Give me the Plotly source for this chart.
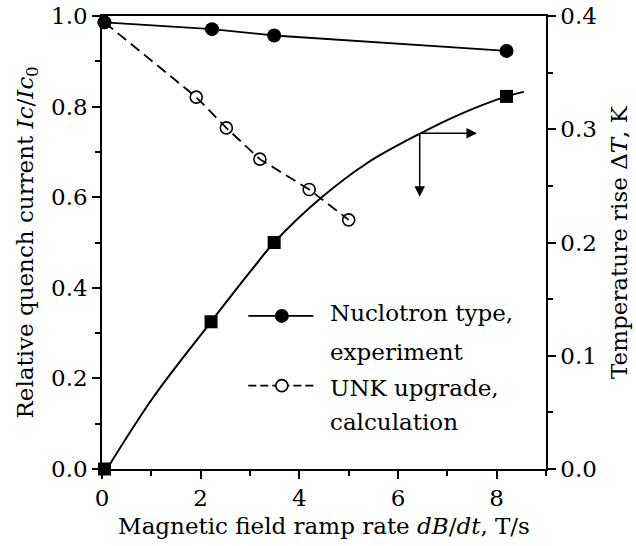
import plotly.graph_objects as go

# Nuclotron-type magnet, measured relative quench current (left axis)
nuc_x = [0.05, 2.23, 3.49, 8.2]
nuc_y = [0.986, 0.971, 0.957, 0.923]

# UNK upgrade, calculated relative quench current (left axis)
unk_x = [0.05, 1.91, 2.52, 3.2, 4.2, 5.0]
unk_y = [0.986, 0.821, 0.753, 0.684, 0.617, 0.550]

# Measured temperature rise (right axis)
dt_x = [0.05, 2.21, 3.49, 8.2]
dt_y = [0.0, 0.13, 0.2, 0.329]

# Smooth trend through the temperature rise points (right axis)
fit_x = [0.1, 1.05, 2.21, 3.0, 3.49, 4.43, 5.37, 6.44, 7.3, 8.2, 8.55]
fit_y = [0.0, 0.064, 0.13, 0.174, 0.2, 0.239, 0.270, 0.296, 0.314, 0.329, 0.333]

FONT = "DejaVu Serif"
FS = 23
BLACK = "black"

fig = go.Figure()

fig.add_trace(go.Scatter(
    x=unk_x, y=unk_y, mode="lines+markers", cliponaxis=False,
    line=dict(color=BLACK, width=1.8, dash="11px,6px"),
    marker=dict(symbol="circle-open", size=12, color=BLACK, line=dict(width=1.6)),
    showlegend=False,
))
fig.add_trace(go.Scatter(
    x=nuc_x, y=nuc_y, mode="lines+markers", cliponaxis=False,
    line=dict(color=BLACK, width=1.8),
    marker=dict(symbol="circle", size=14, color=BLACK),
    showlegend=False,
))
fig.add_trace(go.Scatter(
    x=fit_x, y=fit_y, yaxis="y2", mode="lines", cliponaxis=False,
    line=dict(color=BLACK, width=2, shape="spline", smoothing=1.0),
    showlegend=False,
))
fig.add_trace(go.Scatter(
    x=dt_x, y=dt_y, yaxis="y2", mode="markers", cliponaxis=False,
    marker=dict(symbol="square", size=13, color=BLACK),
    showlegend=False,
))

# Legend keys on a hidden unit overlay axis
key_x0, key_x1, key_mid = 0.3295, 0.476, 0.405
key_rows = [0.338, 0.184]
fig.add_trace(go.Scatter(
    x=[key_x0, key_mid, key_x1], y=[key_rows[0]] * 3, xaxis="x2", yaxis="y3",
    mode="lines", line=dict(color=BLACK, width=1.8), showlegend=False, hoverinfo="skip",
))
fig.add_trace(go.Scatter(
    x=[key_mid], y=[key_rows[0]], xaxis="x2", yaxis="y3", mode="markers",
    marker=dict(symbol="circle", size=14, color=BLACK), showlegend=False, hoverinfo="skip",
))
fig.add_trace(go.Scatter(
    x=[key_x0, key_mid], y=[key_rows[1]] * 2, xaxis="x2", yaxis="y3",
    mode="lines", line=dict(color=BLACK, width=1.8, dash="8px,4px"), showlegend=False, hoverinfo="skip",
))
fig.add_trace(go.Scatter(
    x=[key_x1, key_mid], y=[key_rows[1]] * 2, xaxis="x2", yaxis="y3",
    mode="lines", line=dict(color=BLACK, width=1.8, dash="8px,4px"), showlegend=False, hoverinfo="skip",
))
fig.add_trace(go.Scatter(
    x=[key_mid], y=[key_rows[1]], xaxis="x2", yaxis="y3", mode="markers",
    marker=dict(symbol="circle", size=12, color="white", line=dict(width=1.6, color=BLACK)),
    showlegend=False, hoverinfo="skip",
))

legend_lines = ["Nuclotron type,", "experiment", "UNK upgrade,", "calculation"]
legend_y = [0.345, 0.259, 0.179, 0.104]
annotations = [
    dict(text=t, x=0.508, y=yy, xref="paper", yref="paper", xanchor="left",
         yanchor="middle", showarrow=False, font=dict(family=FONT, size=FS, color=BLACK))
    for t, yy in zip(legend_lines, legend_y)
]

# Arrows pointing from the trend curve to the right-hand axis scale
corner_x, corner_y = 6.44, 0.2965
right_tip_x, down_tip_y = 7.6, 0.2405
for tip_x, tip_y in [(right_tip_x, corner_y), (corner_x, down_tip_y)]:
    annotations.append(dict(
        x=tip_x, y=tip_y, xref="x", yref="y2", ax=corner_x, ay=corner_y,
        axref="x", ayref="y2", showarrow=True, arrowhead=2, arrowsize=1.4,
        arrowwidth=1.5, arrowcolor=BLACK, text="",
    ))

axis_common = dict(
    showline=True, linecolor=BLACK, linewidth=1.5, ticks="outside", ticklen=8,
    tickwidth=1.5, tickcolor=BLACK, showgrid=False, zeroline=False, automargin=False,
    tickfont=dict(family=FONT, size=FS, color=BLACK),
)

fig.update_layout(
    width=636, height=546,
    margin=dict(l=102, r=90, t=16, b=77),
    plot_bgcolor="white", paper_bgcolor="white",
    font=dict(family=FONT, size=FS, color=BLACK),
    xaxis=dict(
        range=[0, 9], dtick=2, mirror=True,
        minor=dict(dtick=1, ticks="outside", ticklen=5, tickwidth=1.5, tickcolor=BLACK),
        title=dict(text="Magnetic field ramp rate <i>dB</i>/<i>dt</i>, T/s",
                   font=dict(family=FONT, size=FS, color=BLACK), standoff=8),
        **axis_common,
    ),
    yaxis=dict(
        range=[0, 1], dtick=0.2, tickformat=".1f",
        minor=dict(dtick=0.1, ticks="outside", ticklen=5, tickwidth=1.5, tickcolor=BLACK),
        title=dict(text="Relative quench current <i>Ic</i>/<i>Ic</i><sub>0</sub>",
                   font=dict(family=FONT, size=FS, color=BLACK), standoff=11),
        **axis_common,
    ),
    yaxis2=dict(
        range=[0, 0.4], dtick=0.1, tickformat=".1f", overlaying="y", side="right",
        minor=dict(dtick=0.05, ticks="outside", ticklen=5, tickwidth=1.5, tickcolor=BLACK),
        title=dict(text="Temperature rise Δ<i>T</i>, K",
                   font=dict(family=FONT, size=FS, color=BLACK), standoff=15),
        **axis_common,
    ),
    xaxis2=dict(range=[0, 1], overlaying="x", visible=False),
    yaxis3=dict(range=[0, 1], overlaying="y", visible=False),
    annotations=annotations,
)

fig.write_html("out.html")
